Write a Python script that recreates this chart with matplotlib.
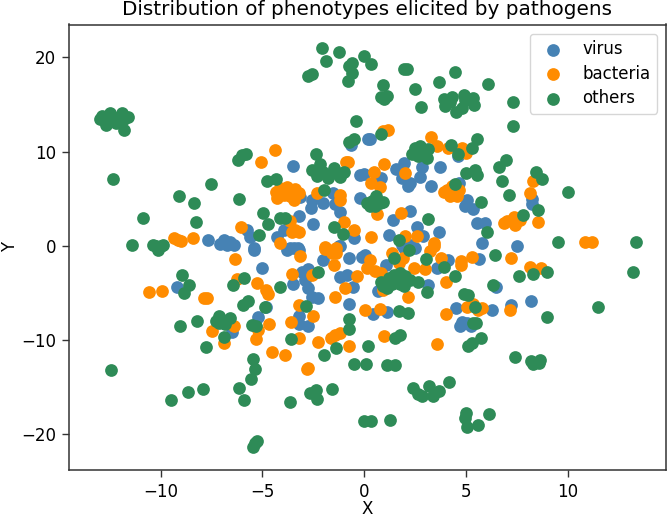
import matplotlib
matplotlib.use("Agg")
import matplotlib.pyplot as plt

virus_x = [-3.5,-0.65,-0.2,-1.55,-0.2,-3.15,-2.55,-2.0,-2.6,-1.45,-1.2,-3.2,-2.5,-3.95,-5.75,-5.6,-4.3,-7.65,-6.9,-6.6,-7.1,-6.75,-6.4,-5.4,-3.65,-3.25,-1.2,-0.5,
           0.2,0.3,4.6,1.95,1.55,2.85,3.75,0.0,0.85,1.85,2.75,2.25,2.15,3.3,4.65,8.25,8.25,5.05,4.95,5.35,2.25,1.4,2.6,5.55,5.95,3.7,1.2,2.9,5.8,7.5,1.85,2.25,1.95,2.5,
           -5.4,-5.0,-9.2,-3.8,-3.45,-3.2,-2.0,-0.75,-1.25,-0.1,-3.05,-2.75,-2.9,-2.75,-3.5,-2.55,-2.25,-1.2,-0.85,-0.55,-0.75,-4.8,-5.2,-3.2,-3.2,-2.75,-6.5,
           5.65,4.1,3.6,0.05,1.05,3.15,6.5,0.7,4.5,6.3,7.2,8.2,0.45,1.1,4.7,5.05,5.25,4.8]
virus_y = [8.5,10.7,7.55,5.65,5.05,5.15,4.9,4.55,4.05,4.4,3.55,3.2,2.35,1.7,1.7,0.9,0.9,0.6,0.65,0.45,0.2,0.1,0.05,-0.25,-0.25,-0.25,-0.05,0.8,
           11.35,11.3,9.5,8.8,8.2,8.4,8.35,7.6,7.2,7.2,7.3,6.7,6.35,6.4,6.7,5.0,4.45,4.9,4.2,3.95,3.7,2.75,2.05,2.4,2.4,1.5,1.1,1.05,0.3,0.0,0.1,0.1,-0.25,-0.25,
           -0.4,-2.3,-4.4,-0.4,-0.25,-0.4,-1.5,-1.3,0.0,-1.15,-2.75,-2.45,-3.6,-4.5,-4.0,-5.4,-5.5,-3.3,-3.05,-4.4,-6.2,-6.45,-7.6,-7.4,-8.3,-8.5,-9.15,
           -1.4,-1.55,-2.3,-0.95,-2.0,-4.15,-4.4,-4.75,-6.55,-6.8,-6.25,-5.85,-7.25,-7.0,-8.55,-8.2,-8.55,-8.1]

bacteria_x = [-4.4,-5.05,-0.8,-0.9,-4.35,-4.15,-3.8,-3.4,-4.3,-3.95,-3.45,-3.2,-3.65,-2.3,-1.2,-1.2,-9.35,-9.15,-9.0,-8.4,-6.05,-3.65,-3.55,-3.2,-3.4,-1.0,-0.5,-4.15,-1.9,-1.4,
              1.15,0.95,3.3,3.6,4.1,4.8,5.0,1.0,0.5,0.35,0.8,2.0,4.05,4.3,4.65,4.2,4.55,3.9,8.15,8.3,1.8,0.65,7.0,7.35,7.4,7.65,6.85,8.55,0.35,2.0,2.6,3.45,10.85,11.2,
              -6.35,-6.25,-5.25,-4.8,-4.7,-10.55,-9.95,-7.85,-7.7,-3.15,-3.55,-2.55,-1.75,-1.6,-1.9,-1.4,-1.5,-0.35,-0.95,-1.45,-3.2,-2.5,-4.65,-3.6,-6.4,-7.45,-5.2,-5.3,-6.9,-3.2,-2.25,-4.55,-3.9,-2.75,-2.8,-1.65,-1.45,-1.2,-0.75,
              1.35,1.9,1.7,3.25,3.45,0.3,0.15,0.55,0.85,2.45,3.0,3.8,4.0,4.75,4.75,5.3,7.2,8.15,8.7,2.15,0.95,0.05,0.8,4.0,5.05,5.35,5.6,5.8,7.15,1.0,3.6]
bacteria_y = [10.15,8.85,8.95,8.95,5.75,6.1,6.25,6.0,5.05,5.4,4.9,5.6,5.25,5.6,5.4,4.9,0.8,0.65,0.55,0.8,2.05,2.6,1.5,1.5,1.7,2.5,1.7,0.3,-0.15,-0.25,
              12.25,12.15,11.6,10.6,10.35,10.35,9.9,8.65,7.85,6.7,6.2,7.7,5.95,6.3,5.95,5.25,5.25,5.75,5.6,6.85,3.45,3.35,2.6,3.1,2.2,2.75,2.4,2.5,0.9,1.05,1.0,0.3,0.45,0.45,
              -1.4,-3.55,-3.95,-4.65,-5.1,-4.9,-4.8,-5.5,-5.55,-1.05,-3.0,-3.05,-0.4,-0.8,-0.3,-0.8,-2.0,-3.25,-4.45,-5.4,-6.25,-7.45,-8.3,-8.05,-8.5,-9.05,-8.9,-9.9,-10.35,-9.75,-10.2,-11.25,-11.6,-13.0,-13.1,-9.75,-9.45,-9.3,-10.6,
              -0.8,-1.3,-1.85,-0.6,0.0,-1.5,-2.35,-2.7,-2.9,-2.3,-2.45,-1.3,-3.8,-1.65,-2.0,-1.15,-1.25,-2.2,-2.3,-5.4,-4.65,-6.85,-6.7,-7.25,-6.45,-6.2,-6.8,-6.6,-6.8,-9.55,-10.4]

others_x = [-13.0,-12.9,-12.7,-12.5,-12.5,-12.2,-12.15,-11.9,-11.8,-11.6,-11.8,-12.65,-12.35,-9.1,-8.35,-7.5,-8.25,-10.85,-11.4,-10.35,-9.9,-6.15,-6.2,-6.0,-5.8,-4.95,-4.7,-5.15,-4.75,-4.35,-4.15,-3.9,-2.35,-1.95,-1.5,-1.05,
            -2.55,-2.3,-2.15,-2.0,-1.8,-1.5,-1.6,-1.2,-1.0,-0.4,-0.75,-0.5,-2.05,-1.25,-1.85,-2.75,-2.55,-0.75,-0.6,-0.6,-0.8,
            0.0,0.35,1.95,2.1,0.95,4.45,3.7,2.5,6.1,0.85,1.1,1.0,2.8,7.3,3.9,4.3,3.95,4.5,4.9,4.8,5.35,5.4,4.95,4.2,7.3,0.85,5.55,4.25,5.3,4.6,
            2.35,2.5,2.75,3.15,3.1,2.65,2.9,6.95,6.65,8.45,8.75,5.0,5.45,5.55,6.75,4.45,10.0,7.1,5.75,8.55,7.8,6.05,0.15,0.4,0.6,0.95,0.55,0.3,0.8,3.15,1.7,2.2,9.5,13.35,
            -10.25,-10.0,-10.15,-8.95,-8.6,-8.85,-5.9,-6.45,-4.15,-2.25,-5.95,-5.7,-4.85,-2.85,-9.05,-8.2,-7.15,-7.3,-7.0,-6.6,-6.85,-7.15,-5.5,-5.3,-0.75,-0.75,-6.9,-7.75,-3.6,-1.4,-1.95,-0.5,-5.45,-5.35,-5.55,-12.45,-7.9,-8.65,-9.5,-6.15,-5.9,-3.65,-2.35,-2.65,-2.3,-1.6,-5.25,-5.35,-5.45,
            6.45,3.05,1.45,3.9,4.45,7.6,8.3,9.0,13.2,6.35,4.9,5.1,0.85,1.2,1.45,1.75,2.0,2.25,1.1,1.6,1.95,2.65,1.35,1.75,0.95,3.1,1.7,2.15,5.45,5.35,5.5,9.0,11.5,5.75,5.3,5.1,1.75,1.5,0.2,0.1,1.1,1.5,7.4,8.2,8.3,8.65,8.6,
            4.15,3.7,3.2,3.4,2.4,2.65,2.85,6.15,5.0,4.95,5.05,5.6,0.0,0.35,1.25]
others_y = [13.45,13.8,12.85,14.15,13.45,13.0,13.55,14.1,13.45,13.65,12.3,13.55,7.1,5.25,4.6,6.6,2.5,3.0,0.05,0.05,0.05,4.95,9.1,9.6,9.75,3.45,2.3,1.15,6.9,7.1,3.0,2.95,9.75,5.9,2.05,1.25,
            8.0,7.45,8.7,7.8,7.2,8.3,7.7,7.35,7.8,13.3,11.0,11.3,21.05,20.55,19.65,18.05,18.25,19.1,19.4,18.3,17.55,
            20.15,19.3,18.75,18.75,17.1,18.5,17.35,16.65,17.15,15.85,15.9,15.55,14.75,15.3,15.55,15.85,14.8,14.25,16.0,14.6,15.7,14.95,15.5,15.3,12.75,11.85,11.3,10.7,10.35,9.75,
            9.75,10.35,10.6,10.3,9.3,9.5,9.85,9.15,8.4,7.85,7.1,7.7,8.05,7.55,6.9,6.55,5.75,5.4,4.65,3.8,3.3,1.5,4.55,4.75,5.25,4.7,4.2,4.2,4.55,2.85,0.65,-0.4,0.4,0.4,
            0.0,0.0,-0.4,-3.1,-4.15,-5.0,-3.45,-4.15,-4.35,-2.75,-6.25,-5.9,-6.5,-6.4,-8.5,-8.0,-7.4,-8.0,-7.85,-7.7,-8.3,-8.2,-8.4,-8.5,-7.75,-8.85,-9.7,-10.7,-9.85,-10.85,-11.6,-12.5,-12.0,-13.1,-14.15,-13.2,-15.2,-15.5,-16.35,-15.1,-16.4,-16.55,-15.3,-15.6,-16.25,-15.15,-20.7,-20.95,-21.35,
            -0.95,-1.4,-1.3,-2.2,-3.25,-3.25,-3.0,-2.8,-2.75,-4.2,-5.1,-5.25,-3.8,-3.4,-3.1,-2.9,-3.25,-3.6,-4.5,-3.6,-4.3,-3.85,-4.0,-4.0,-4.3,-4.85,-6.9,-7.15,-6.45,-8.2,-8.15,-7.6,-6.5,-9.8,-10.35,-10.6,-9.45,-9.75,-10.65,-12.55,-12.65,-12.65,-11.75,-12.2,-12.55,-12.1,-12.45,
            -14.5,-15.4,-14.9,-15.95,-15.1,-15.7,-15.9,-17.85,-17.8,-18.3,-19.25,-19.0,-18.6,-18.55,-18.45]

labels = ["virus", "bacteria", "others"]
colors = ["steelblue", "darkorange", "seagreen"]
title = "Distribution of phenotypes elicited by pathogens"

W, H = 667, 517
fig = plt.figure(figsize=(W/100, H/100), dpi=100)
ax = fig.add_axes([69/W, 1-470/H, (666-69)/W, (470-24.5)/H])
for x, y, lab, col in zip([virus_x, bacteria_x, others_x], [virus_y, bacteria_y, others_y], labels, colors):
    ax.scatter(x, y, s=84, color=col, label=lab, linewidths=0)
ax.set_xlim(-14.5, 14.83)
ax.set_ylim(-23.8, 23.5)
ax.set_xticks([-10, -5, 0, 5, 10])
ax.set_yticks([-20, -10, 0, 10, 20])
ax.tick_params(labelsize=12, length=4.8, width=1.0, color="#333333", pad=4.5)
for s in ax.spines.values():
    s.set_linewidth(1.1)
    s.set_color("#333333")
ax.set_title(title, fontsize=14.4, pad=6.5)
ax.set_xlabel("X", fontsize=12)
ax.xaxis.set_label_coords(0.5, -0.068)
ax.set_ylabel("Y", fontsize=12)
ax.yaxis.set_label_coords(-0.084, 0.5)
ax.legend(loc="upper right", fontsize=12, handletextpad=0.75, borderaxespad=0.55, labelspacing=0.38)
fig.savefig("out.png", dpi=100)
